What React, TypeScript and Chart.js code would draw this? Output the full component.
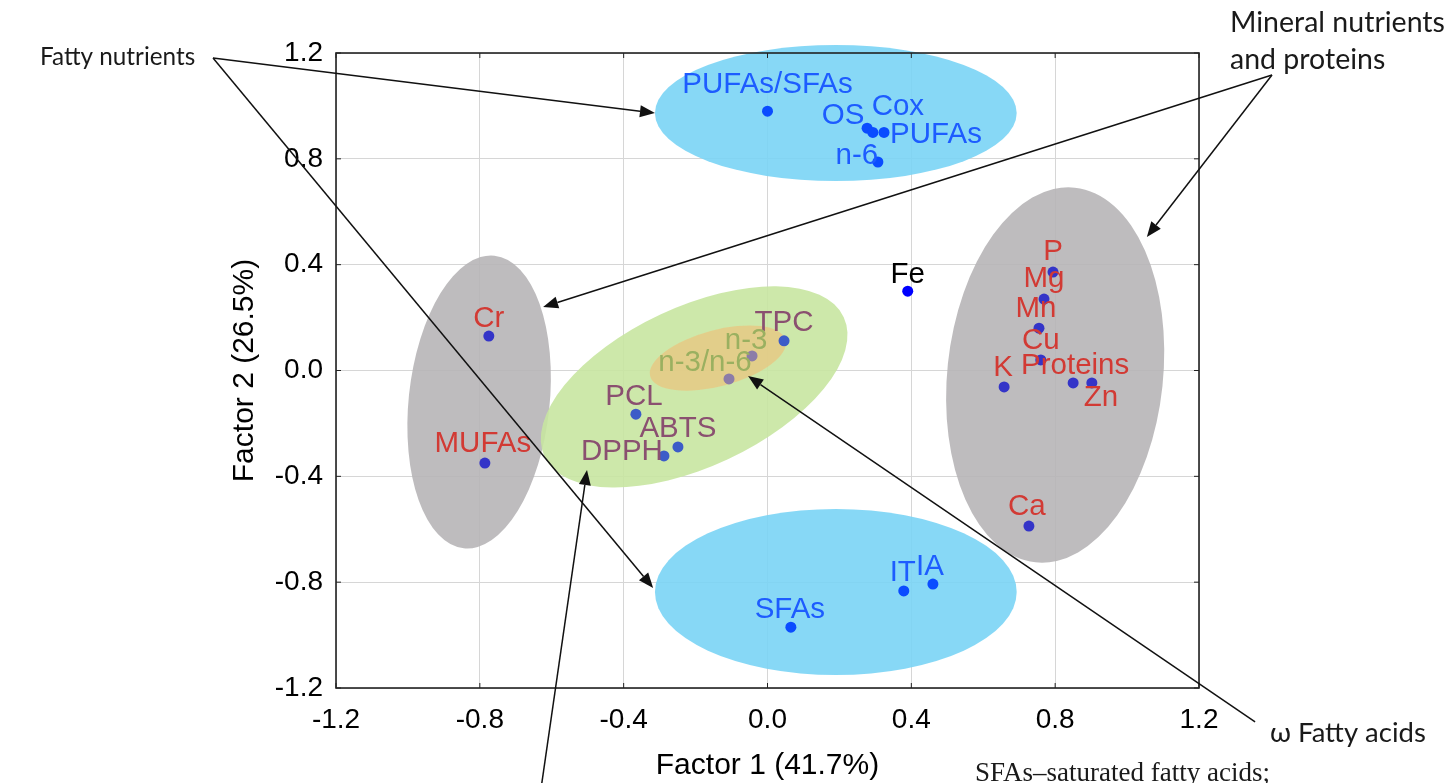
import { useEffect, useRef } from 'react';
import { Chart, registerables } from 'chart.js';
Chart.register(...registerables);

// ---- data ----
const pointNames = ['PUFAs/SFAs', 'OS', 'Cox', 'PUFAs', 'n-6', 'Fe', 'P', 'Mg', 'Mn', 'Cu', 'Proteins', 'K', 'Zn', 'Ca', 'Cr', 'MUFAs', 'PCL', 'ABTS', 'DPPH', 'TPC', 'n-3', 'n-3/n-6', 'SFAs', 'IT', 'IA'];
const factor1 = [0.0, 0.277, 0.293, 0.324, 0.307, 0.39, 0.794, 0.769, 0.755, 0.76, 0.85, 0.658, 0.902, 0.727, -0.775, -0.786, -0.366, -0.249, -0.288, 0.046, -0.043, -0.107, 0.065, 0.379, 0.46];
const factor2 = [0.98, 0.916, 0.9, 0.9, 0.788, 0.3, 0.372, 0.27, 0.16, 0.04, -0.047, -0.062, -0.047, -0.588, 0.13, -0.35, -0.165, -0.289, -0.323, 0.112, 0.055, -0.032, -0.97, -0.833, -0.807];
const pointGroup = ['fat', 'fat', 'fat', 'fat', 'fat', 'fe', 'min', 'min', 'min', 'min', 'min', 'min', 'min', 'min', 'min', 'min', 'anti', 'anti', 'anti', 'anti', 'omega', 'omega', 'fat', 'fat', 'fat'];
const tickValues = [-1.2, -0.8, -0.4, 0.0, 0.4, 0.8, 1.2];
const xTitle = 'Factor 1 (41.7%)';
const yTitle = 'Factor 2 (26.5%)';

// ---- layout / style (not data) ----
const labelOffsets: [number, number][] = [
  [0, -26], [-24, -12], [25, -26], [52, 2], [-21, -6], [0, -16], [0, -20], [0, -20], [-3, -19], [0, -19], [2, -17], [-1, -19], [9, 15], [-2, -19], [0, -17], [-2, -19], [-2, -17], [0, -18], [-42, -4], [0, -18], [-6, -15], [-24, -16], [-1, -17], [-1, -18], [-3, -17],
];
const groupPointColor: Record<string, string> = { fat: '#0a4cff', fe: '#0000ff', min: '#3434c8', anti: '#3c5cc8', omega: '#8c7ca8' };
const groupLabelColor: Record<string, string> = { fat: '#1d5cff', fe: '#000000', min: '#d23a34', anti: '#8a5070', omega: '#9ab060' };

// ellipses: centre in data units, radii in data units (x-scale / y-scale), rotation in degrees on screen
const ellipses = [
  { cx: 0.19, cy: 0.973, rx: 0.503, ry: 0.257, rot: 0, color: 'rgba(122,212,245,0.9)' },
  { cx: 0.19, cy: -0.837, rx: 0.503, ry: 0.314, rot: 0, color: 'rgba(122,212,245,0.9)' },
  { cx: -0.802, cy: -0.119, rx: 0.196, ry: 0.556, rot: 6, color: 'rgba(183,181,183,0.9)' },
  { cx: 0.80, cy: -0.017, rx: 0.300, ry: 0.712, rot: 6, color: 'rgba(183,181,183,0.9)' },
  { cx: -0.204, cy: -0.062, rx: 0.459, ry: 0.302, rot: -25, color: 'rgba(200,229,161,0.9)' },
  { cx: -0.138, cy: 0.047, rx: 0.195, ry: 0.106, rot: -15, color: 'rgba(240,190,120,0.62)' },
];

// arrows in data coordinates (may lie outside axis range)
const arrows: { from: [number, number]; to: [number, number] }[] = [
  { from: [-1.542, 1.181], to: [-0.313, 0.973] },
  { from: [-1.542, 1.181], to: [-0.318, -0.822] },
  { from: [1.403, 1.117], to: [-0.624, 0.240] },
  { from: [1.403, 1.117], to: [1.055, 0.505] },
  { from: [1.356, -1.328], to: [-0.054, -0.021] },
  { from: [-0.633, -1.61], to: [-0.502, -0.376] },
];

const fmt = (v: number) => (Math.abs(v) < 1e-9 ? '0.0' : v.toFixed(1));
const ARIAL = '"Liberation Sans", Arial, sans-serif';

export default function App() {
  const ref = useRef<HTMLCanvasElement | null>(null);
  useEffect(() => {
    if (!ref.current) return;
    const W = 1450, H = 783;
    const overlay = {
      id: 'overlay',
      beforeDatasetsDraw(chart: any) {
        const { ctx, scales } = chart;
        const xs = scales.x, ys = scales.y;
        const ux = Math.abs(xs.getPixelForValue(1) - xs.getPixelForValue(0));
        const uy = Math.abs(ys.getPixelForValue(0) - ys.getPixelForValue(1));
        ctx.save();
        ellipses.forEach((e) => {
          ctx.beginPath();
          ctx.ellipse(xs.getPixelForValue(e.cx), ys.getPixelForValue(e.cy), e.rx * ux, e.ry * uy, (e.rot * Math.PI) / 180, 0, Math.PI * 2);
          ctx.fillStyle = e.color;
          ctx.fill();
        });
        ctx.restore();
      },
      afterDatasetsDraw(chart: any) {
        const { ctx, scales, chartArea } = chart;
        const xs = scales.x, ys = scales.y;
        ctx.save();
        // point labels
        ctx.font = `29.5px ${ARIAL}`;
        ctx.textAlign = 'center';
        ctx.textBaseline = 'middle';
        pointNames.forEach((n, i) => {
          const px = xs.getPixelForValue(factor1[i]);
          const py = ys.getPixelForValue(factor2[i]);
          ctx.fillStyle = groupLabelColor[pointGroup[i]];
          ctx.fillText(n, px + labelOffsets[i][0], py + labelOffsets[i][1]);
        });
        // frame
        ctx.strokeStyle = '#222';
        ctx.lineWidth = 1.6;
        ctx.strokeRect(chartArea.left, chartArea.top, chartArea.right - chartArea.left, chartArea.bottom - chartArea.top);
        // inward ticks
        ctx.lineWidth = 1;
        tickValues.forEach((v) => {
          const px = xs.getPixelForValue(v);
          ctx.beginPath(); ctx.moveTo(px, chartArea.bottom); ctx.lineTo(px, chartArea.bottom - 5); ctx.stroke();
          ctx.beginPath(); ctx.moveTo(px, chartArea.top); ctx.lineTo(px, chartArea.top + 5); ctx.stroke();
          const py = ys.getPixelForValue(v);
          ctx.beginPath(); ctx.moveTo(chartArea.left, py); ctx.lineTo(chartArea.left + 5, py); ctx.stroke();
          ctx.beginPath(); ctx.moveTo(chartArea.right, py); ctx.lineTo(chartArea.right - 5, py); ctx.stroke();
        });
        // axis titles
        ctx.fillStyle = '#000';
        ctx.font = `30px ${ARIAL}`;
        ctx.fillText(xTitle, (chartArea.left + chartArea.right) / 2, 766);
        ctx.save();
        ctx.translate(245, (chartArea.top + chartArea.bottom) / 2);
        ctx.rotate(-Math.PI / 2);
        ctx.fillText(yTitle, 0, 0);
        ctx.restore();
        // arrows
        ctx.strokeStyle = '#111';
        ctx.fillStyle = '#111';
        ctx.lineWidth = 1.5;
        arrows.forEach((a) => {
          const x0 = xs.getPixelForValue(a.from[0]), y0 = ys.getPixelForValue(a.from[1]);
          const x1 = xs.getPixelForValue(a.to[0]), y1 = ys.getPixelForValue(a.to[1]);
          const ang = Math.atan2(y1 - y0, x1 - x0);
          const L = 15, Wd = 6;
          const bx = x1 - L * Math.cos(ang), by = y1 - L * Math.sin(ang);
          ctx.beginPath(); ctx.moveTo(x0, y0); ctx.lineTo(bx, by); ctx.stroke();
          ctx.beginPath();
          ctx.moveTo(x1, y1);
          ctx.lineTo(bx + Wd * Math.sin(ang), by - Wd * Math.cos(ang));
          ctx.lineTo(bx - Wd * Math.sin(ang), by + Wd * Math.cos(ang));
          ctx.closePath(); ctx.fill();
        });
        // annotation texts
        ctx.fillStyle = '#1a1a1a';
        ctx.textAlign = 'left';
        ctx.font = '24.3px Lato, "Open Sans", sans-serif';
        ctx.fillText('Fatty nutrients', 40, 57);
        ctx.font = '28.5px Lato, "Open Sans", sans-serif';
        ctx.fillText('Mineral nutrients', 1230, 23);
        ctx.fillText('and proteins', 1230, 60);
        ctx.font = '27.5px Lato, "Open Sans", sans-serif';
        ctx.fillText('\u03c9 Fatty acids', 1270, 733);
        ctx.textBaseline = 'alphabetic';
        ctx.font = '27px "Liberation Serif", "Times New Roman", serif';
        ctx.fillText('SFAs\u2013saturated fatty acids;', 975, 781);
        ctx.restore();
      },
    };
    const chart = new Chart(ref.current, {
      type: 'scatter',
      data: {
        datasets: [
          {
            data: factor1.map((x, i) => ({ x, y: factor2[i] })),
            pointRadius: 5.5,
            pointBackgroundColor: pointGroup.map((g) => groupPointColor[g]),
            pointBorderColor: pointGroup.map((g) => groupPointColor[g]),
            pointBorderWidth: 0,
          },
        ],
      },
      options: {
        responsive: false,
        animation: false,
        layout: { padding: { left: 0, top: 53, right: W - 1199, bottom: 0 } },
        plugins: { legend: { display: false }, tooltip: { enabled: false } },
        scales: {
          x: {
            type: 'linear', min: -1.2, max: 1.2,
            afterFit: (s: any) => { s.height = H - 688; },
            afterBuildTicks: (s: any) => { s.ticks = tickValues.map((v) => ({ value: v })); },
            grid: { color: '#d6d6d6', lineWidth: 1, drawTicks: false },
            border: { display: false },
            ticks: { color: '#000', padding: 15, font: { size: 28, family: ARIAL }, callback: (v: any) => fmt(Number(v)), maxRotation: 0, autoSkip: false },
          },
          y: {
            type: 'linear', min: -1.2, max: 1.2,
            afterFit: (s: any) => { s.width = 336; },
            afterBuildTicks: (s: any) => { s.ticks = tickValues.map((v) => ({ value: v })); },
            grid: { color: '#d6d6d6', lineWidth: 1, drawTicks: false },
            border: { display: false },
            ticks: { color: '#000', padding: 13, font: { size: 28, family: ARIAL }, callback: (v: any) => fmt(Number(v)), autoSkip: false },
          },
        },
      },
      plugins: [overlay],
    } as any);
    return () => chart.destroy();
  }, []);
  return (
    <div style={{ position: 'fixed', left: 0, top: 0, width: 1450, height: 783, background: '#fff', overflow: 'hidden' }}>
      <canvas ref={ref} width={1450} height={783} style={{ display: 'block', width: 1450, height: 783 }} />
    </div>
  );
}
